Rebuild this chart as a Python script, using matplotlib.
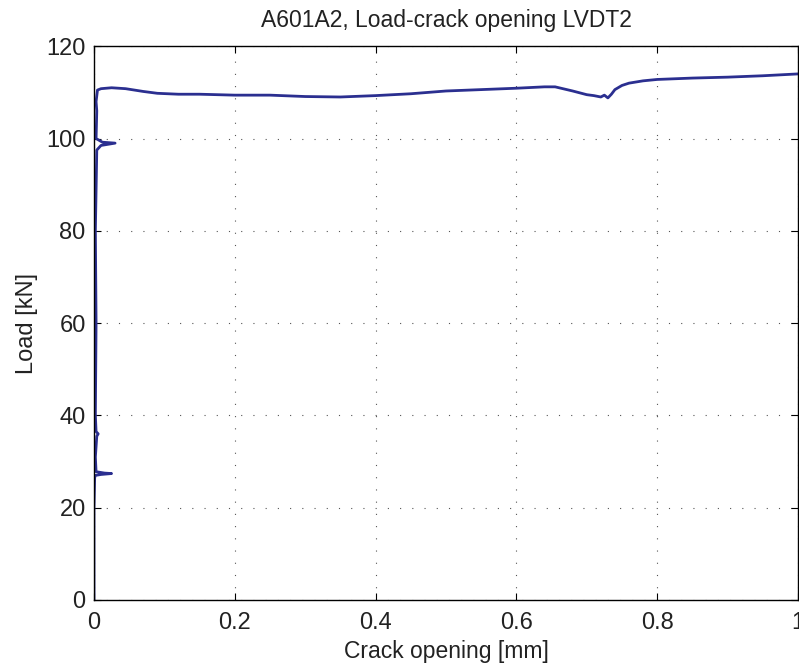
import numpy as np
import matplotlib
matplotlib.use("Agg")
import matplotlib.pyplot as plt

plt.rcParams['font.family'] = ['Liberation Sans', 'DejaVu Sans']
plt.rcParams['text.color'] = '#222222'
plt.rcParams['xtick.labelcolor'] = '#222222'
plt.rcParams['ytick.labelcolor'] = '#222222'
plt.rcParams['axes.labelcolor'] = '#222222'

# crack opening [mm] and load [kN]
crack = [0.0, 0.0, 0.001, 0.002, 0.010, 0.025, 0.015, 0.003, 0.002, 0.004,
         0.006, 0.003, 0.002, 0.003, 0.002, 0.004, 0.010, 0.030, 0.012, 0.003,
         0.004, 0.003, 0.005, 0.010, 0.025, 0.045, 0.07, 0.09, 0.12, 0.15,
         0.20, 0.25, 0.30, 0.35, 0.40, 0.45, 0.50, 0.55, 0.60, 0.64, 0.655,
         0.68, 0.70, 0.71, 0.72, 0.725, 0.73, 0.735, 0.74, 0.75, 0.76, 0.78,
         0.80, 0.85, 0.90, 0.95, 1.00]
load = [0.0, 20.0, 26.5, 27.0, 27.2, 27.4, 27.5, 27.8, 31.0, 35.5,
        36.0, 36.5, 40.0, 60.0, 80.0, 97.5, 98.5, 99.0, 99.2, 100.0,
        106.0, 108.0, 110.5, 110.8, 111.0, 110.8, 110.2, 109.8, 109.6, 109.6,
        109.4, 109.4, 109.1, 109.0, 109.3, 109.7, 110.3, 110.6, 110.9, 111.2, 111.2,
        110.3, 109.5, 109.3, 109.0, 109.4, 108.8, 109.6, 110.6, 111.5, 112.0, 112.5,
        112.8, 113.1, 113.3, 113.6, 114.0]

fig = plt.figure(figsize=(7.99, 6.70), dpi=100)
ax = fig.add_axes([0.1176, 0.1045, 0.8811, 0.8265])

ax.plot(crack, load, color='#2b2f90', linewidth=2.0)

ax.set_xlim(0, 1)
ax.set_ylim(0, 120)
ax.set_xticks(np.arange(0, 1.01, 0.2))
ax.set_xticklabels(['0', '0.2', '0.4', '0.6', '0.8', '1'])
ax.set_yticks(np.arange(0, 121, 20))
ax.grid(True, linestyle=(0, (1, 10)), color='#555555', linewidth=0.8)
ax.tick_params(direction='in', labelsize=17, top=True, right=True, length=5)
ax.tick_params(axis='x', pad=9)
ax.tick_params(axis='y', pad=6)
for s in ax.spines.values():
    s.set_linewidth(1.0)

ax.set_title('A601A2, Load-crack opening LVDT2', fontsize=16.5, pad=14)
ax.set_xlabel('Crack opening [mm]', fontsize=16.5, labelpad=4)
ax.set_ylabel('Load [kN]', fontsize=17, labelpad=6)

fig.savefig('out.png', dpi=100)
